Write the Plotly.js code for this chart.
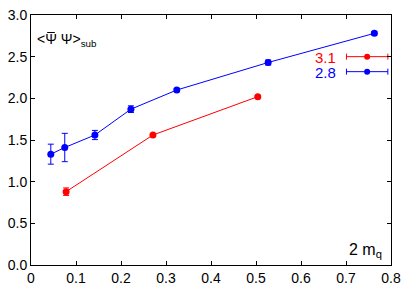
<!DOCTYPE html>
<html><head><meta charset="utf-8">
<script src="https://cdn.plot.ly/plotly-3.0.1.min.js"></script>
<style>html,body{margin:0;padding:0;background:#fff}#c{width:409px;height:303px}</style>
</head><body><div id="c"></div>
<script>
// Series "2.8" (blue)
const blueX = [0.044, 0.075, 0.142, 0.222, 0.324, 0.527, 0.763];
const blueY = [1.33, 1.41, 1.56, 1.87, 2.10, 2.43, 2.78];
const blueErr = [0.12, 0.17, 0.055, 0.04, 0.02, 0.03, 0.02];
// Series "3.1" (red)
const redX = [0.078, 0.271, 0.504];
const redY = [0.88, 1.56, 2.02];
const redErr = [0.045, 0.01, 0.01];
// labels
const seriesNames = ["3.1", "2.8"];
const xTickVals = [0, 0.1, 0.2, 0.3, 0.4, 0.5, 0.6, 0.7, 0.8];
const yTickVals = [0, 0.5, 1.0, 1.5, 2.0, 2.5, 3.0];

const RED = '#ff0000', BLUE = '#0000ff';
const font = 'Liberation Sans, Arial, Helvetica, sans-serif';

function series(x, y, err, color) {
  return {
    x: x, y: y, type: 'scatter', mode: 'lines+markers', showlegend: false,
    line: {color: color, width: 1},
    marker: {color: color, size: 7},
    error_y: {type: 'data', array: err, visible: true, color: color, thickness: 1, width: 3}
  };
}
// legend keys (position constants)
const keyX = 0.747, keyHalf = 0.046, keyY = [2.50, 2.32];
function key(i, color) {
  return {
    x: [keyX], y: [keyY[i]], type: 'scatter', mode: 'markers', showlegend: false,
    marker: {color: color, size: 6},
    error_x: {type: 'constant', value: keyHalf, visible: true, color: color, thickness: 1, width: 3}
  };
}

const data = [
  series(redX, redY, redErr, RED),
  series(blueX, blueY, blueErr, BLUE),
  key(0, RED), key(1, BLUE)
];

const axisCommon = {
  showgrid: false, zeroline: false, showline: true, linecolor: '#000', linewidth: 1,
  mirror: 'ticks', ticks: 'inside', ticklen: 4, tickcolor: '#000', tickwidth: 1,
  tickfont: {family: font, size: 14, color: '#000'}, fixedrange: true
};

const layout = {
  width: 409, height: 303,
  margin: {l: 31, r: 18, t: 15, b: 38},
  paper_bgcolor: '#fff', plot_bgcolor: '#fff',
  font: {family: font},
  xaxis: Object.assign({}, axisCommon, {range: [0, 0.8], tickvals: xTickVals, ticktext: xTickVals.map(v => v === 0 ? '0' : v.toFixed(1))}),
  yaxis: Object.assign({}, axisCommon, {range: [0, 3.0], tickvals: yTickVals, ticktext: yTickVals.map(v => v.toFixed(1))}),
  shapes: [
    // overbar above the first psi of the label
    {type: 'line', xref: 'x', yref: 'y', x0: 0.036, x1: 0.053, y0: 2.79, y1: 2.79, line: {color: '#000', width: 1}}
  ],
  annotations: [
    {x: 0.682, y: keyY[0], xref: 'x', yref: 'y', text: seriesNames[0], showarrow: false, xanchor: 'right', yanchor: 'middle', height: 14, font: {family: font, size: 15, color: RED}},
    {x: 0.682, y: keyY[1], xref: 'x', yref: 'y', text: seriesNames[1], showarrow: false, xanchor: 'right', yanchor: 'middle', height: 14, font: {family: font, size: 15, color: BLUE}},
    {x: 0.009, y: 2.70, xref: 'x', yref: 'y', text: '&lt;\u03A8 \u03A8&gt;<sub>sub</sub>', showarrow: false, xanchor: 'left', yanchor: 'middle', font: {family: font, size: 14, color: '#000'}},
    {x: 0.785, y: 0.17, xref: 'x', yref: 'y', text: '2 m<sub>q</sub>', showarrow: false, xanchor: 'right', yanchor: 'middle', font: {family: font, size: 16, color: '#000'}}
  ]
};

Plotly.newPlot('c', data, layout, {displayModeBar: false, staticPlot: true});
</script></body></html>
